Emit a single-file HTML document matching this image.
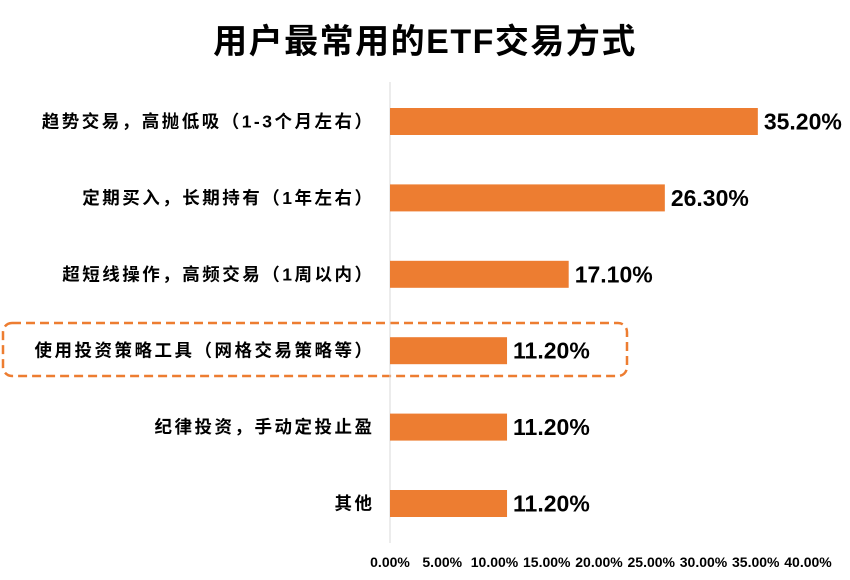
<!DOCTYPE html>
<html><head><meta charset="utf-8"><style>
body{margin:0;background:#fff;}
svg{display:block;font-family:"Liberation Sans","Noto Sans CJK SC",sans-serif;}
</style></head><body>
<svg id="chart" width="850" height="580" viewBox="0 0 850 580">
<text x="425" y="53" text-anchor="middle" font-size="34" font-weight="bold" letter-spacing="1.5" fill="#000">用户最常用的ETF交易方式</text>
<rect x="3" y="323" width="624" height="53" rx="9" fill="none" stroke="#ED7D31" stroke-width="2.5" stroke-dasharray="9,5"/>
<line x1="390" y1="82" x2="390" y2="543" stroke="#d9d9d9" stroke-width="1"/>
<g id="bars"></g>
</svg>
<script>
const categories=["趋势交易，高抛低吸（1-3个月左右）","定期买入，长期持有（1年左右）","超短线操作，高频交易（1周以内）","使用投资策略工具（网格交易策略等）","纪律投资，手动定投止盈","其他"];
const values=[35.2,26.3,17.1,11.2,11.2,11.2];
const valueLabels=["35.20%","26.30%","17.10%","11.20%","11.20%","11.20%"];
const ticks=[0,5,10,15,20,25,30,35,40];
const tickLabels=["0.00%","5.00%","10.00%","15.00%","20.00%","25.00%","30.00%","35.00%","40.00%"];
const NS="http://www.w3.org/2000/svg";
const g=document.getElementById('bars');
const x0=390, pxPer=10.45;
function xs(v){return x0+v*pxPer;}
const yTop=108, step=76.4, bh=27;
function yc(i){return yTop+bh/2+i*step;}
function mk(t,a){const e=document.createElementNS(NS,t);for(const k in a)e.setAttribute(k,a[k]);return e;}
categories.forEach((c,i)=>{
 const r=mk('rect',{x:x0,y:yc(i)-bh/2,width:xs(values[i])-x0,height:bh,fill:'#ED7D31'});
 
 
 g.appendChild(r);
 const l=mk('text',{x:374.5,y:yc(i)+6,'text-anchor':'end','font-size':17.5,'font-weight':'bold','letter-spacing':2.5,fill:'#000'});
 l.textContent=c;
 
 
 g.appendChild(l);
 const v=mk('text',{x:xs(values[i])+6,y:yc(i)+8,'font-size':23,'font-weight':'bold',fill:'#000'});
 v.textContent=valueLabels[i];
 
 
 g.appendChild(v);
});
ticks.forEach((t,i)=>{
 const e=mk('text',{x:xs(t),y:567,'text-anchor':'middle','font-size':14,'font-weight':'bold',fill:'#000'});
 e.textContent=tickLabels[i];
 
 
 g.appendChild(e);
});
</script>
</body></html>
